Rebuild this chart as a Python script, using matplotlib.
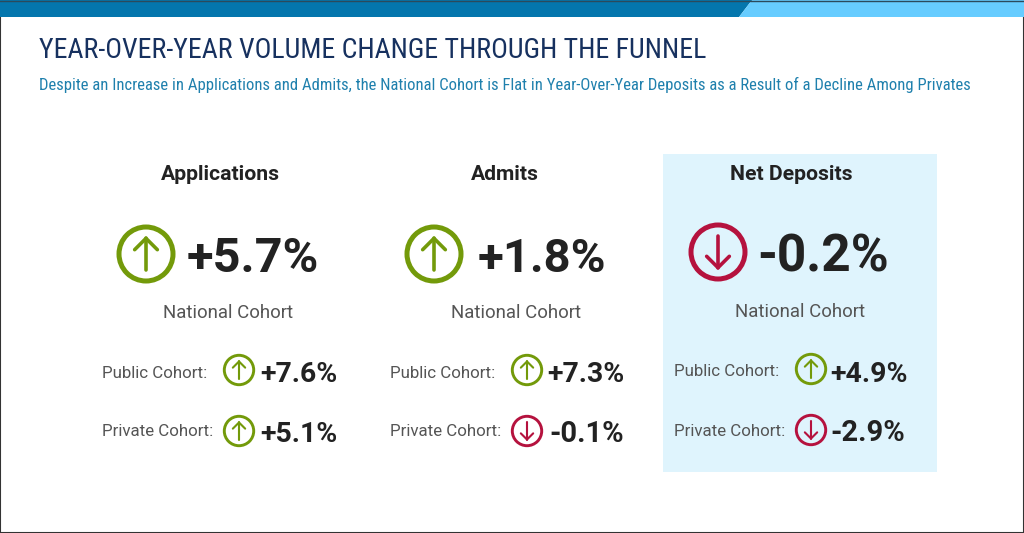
import matplotlib
matplotlib.use("Agg")
import matplotlib.pyplot as plt
from matplotlib.patches import Circle, Polygon, Rectangle

W, H = 1024, 533
TITLE = "YEAR-OVER-YEAR VOLUME CHANGE THROUGH THE FUNNEL"
SUBTITLE = ("Despite an Increase in Applications and Admits, the National Cohort is Flat in "
            "Year-Over-Year Deposits as a Result of a Decline Among Privates")
stages = ["Applications", "Admits", "Net Deposits"]
national = [5.7, 1.8, -0.2]
public = [7.6, 7.3, 4.9]
private = [5.1, -0.1, -2.9]

GREEN, RED, INK = "#739a0a", "#b5123e", "#222222"
plt.rcParams["font.family"] = ["Roboto", "DejaVu Sans"]
COND = ["Roboto Condensed", "Roboto", "DejaVu Sans"]
fig = plt.figure(figsize=(W / 100, H / 100), dpi=100)
ax = fig.add_axes([0, 0, 1, 1])
ax.set_xlim(0, W); ax.set_ylim(H, 0); ax.axis("off")

ax.add_patch(Rectangle((0, 0), W, H, fc="white", ec="#333333", lw=1.5))
ax.add_patch(Polygon([(0, 0), (752, 0), (739, 17), (0, 17)], fc="#0476ad", ec="none"))
ax.add_patch(Polygon([(752, 0), (1024, 0), (1024, 17), (739, 17)], fc="#66ccff", ec="none"))
ax.plot([0, W], [0.5, 0.5], color="#2b4a5c", lw=1)
ax.add_patch(Rectangle((663, 154), 274, 318, fc="#dff4fd", ec="none"))

ax.text(39, 50, TITLE, fontsize=20.1, color="#17315f", va="center", ha="left",
        stretch="condensed", family=COND)
ax.text(39, 85, SUBTITLE, fontsize=11.97, color="#1f80ad", va="center", ha="left",
        stretch="condensed", family=COND)

def arrow(cx, cy, r, value, lw):
    up = value >= 0
    col = GREEN if up else RED
    ax.add_patch(Circle((cx, cy), r, fc="none", ec=col, lw=lw))
    s = 1 if up else -1
    tip = cy - s * r * 0.58
    tail = cy + s * r * 0.58
    alw = lw * 0.72
    ax.plot([cx, cx], [tail, tip], color=col, lw=alw, solid_capstyle="round")
    ax.plot([cx - r * 0.42, cx, cx + r * 0.42], [tip + s * r * 0.42, tip, tip + s * r * 0.42],
            color=col, lw=alw, solid_capstyle="round", solid_joinstyle="round")

def fmt(v):
    return f"{v:+.1f}%"

head_x = [220, 505, 791]
head_y = [174, 174, 174]
nat_cx = [146, 434, 718]
nat_cy = [254, 254, 252]
nat_tx = [187, 478, 757]
nat_size = [35, 34, 37]
lab_x = [228, 516, 800]
lab_y = [313, 313, 312]
pub_lx = [102, 390, 674]
pub_cx = [239, 527, 811]
pub_tx = [260, 547, 830]
row1 = [372, 372, 371]
row2 = [431, 431, 430]
for i, stage in enumerate(stages):
    ax.text(head_x[i], head_y[i], stage, fontsize=15.2, fontweight="bold", color=INK, ha="center", va="center")
    arrow(nat_cx[i], nat_cy[i], 27, national[i], 3.6)
    ax.text(nat_tx[i], nat_cy[i] + 5, fmt(national[i]), fontsize=nat_size[i], fontweight="bold", color=INK, ha="left", va="center")
    ax.text(lab_x[i], lab_y[i], "National Cohort", fontsize=13.4, color="#555555", ha="center", va="center")
    ax.text(pub_lx[i], row1[i] + 1, "Public Cohort:", fontsize=12.2, color="#555555", ha="left", va="center")
    ax.text(pub_lx[i], row2[i] + 1, "Private Cohort:", fontsize=12.2, color="#555555", ha="left", va="center")
    arrow(pub_cx[i], row1[i] - 2, 14.7, public[i], 2.1)
    arrow(pub_cx[i], row2[i], 14.7, private[i], 2.1)
    ax.text(pub_tx[i], row1[i] + 3, fmt(public[i]), fontsize=20.4, fontweight="bold", color=INK, ha="left", va="center")
    ax.text(pub_tx[i] + (2 if private[i] < 0 and i == 1 else 0), row2[i] + 3, fmt(private[i]),
            fontsize=21 if private[i] < 0 else 20.4, fontweight="bold", color=INK, ha="left", va="center")

fig.savefig("out.png", dpi=100)
